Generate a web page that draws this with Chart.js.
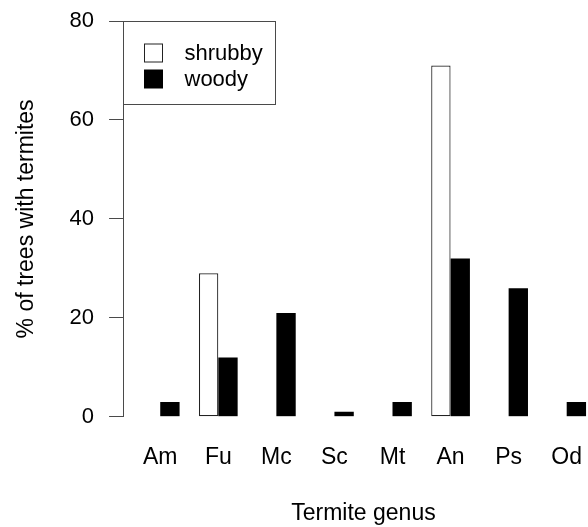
<!DOCTYPE html>
<html>
<head>
<meta charset="utf-8">
<script src="https://cdn.jsdelivr.net/npm/chart.js@4"></script>
<style>
  html, body { margin: 0; padding: 0; background: #fff; overflow: hidden; }
  #wrap { width: 610px; height: 527px; }
</style>
</head>
<body>
<div id="wrap"><canvas id="chart" width="610" height="527"></canvas></div>
<script>
/* Termite genera on shrubby vs woody trees, R-style grouped barplot. */

const genera = ['Am', 'Fu', 'Mc', 'Sc', 'Mt', 'An', 'Ps', 'Od'];
const shrubby = [0, 29, 0, 0, 0, 71, 0, 0];
const woody = [3, 12, 21, 1, 3, 32, 26, 3];
const yTicks = [0, 20, 40, 60, 80];

const FONT = '"Liberation Sans", Arial, Helvetica, sans-serif';
const INK = '#000';
const AXIS = '#4a4a4a';

// R barplot(beside = TRUE) slots: each group takes 3 units (1 gap + 2 bars),
// labels sit at the middle of the pair.
const groupMid = genera.map((g, i) => 3 * i + 2);
const span = 3 * genera.length - 1;
const xMin = 1 - 0.04 * span;
const xMax = 3 * genera.length + 0.04 * span;

const toPoints = (vals) => vals.map((v, i) => ({ x: groupMid[i], y: v }));

const boxLegend = {
  id: 'boxLegend',
  afterDraw(chart) {
    const { ctx, chartArea } = chart;
    const sets = chart.data.datasets;
    const padL = 21, sw = 18, gap = 22, padR = 13, padT = 18, rowH = 26, padB = 13;
    ctx.save();
    ctx.font = `22px ${FONT}`;
    const textW = Math.max(...sets.map((d) => ctx.measureText(d.label).width));
    const x0 = Math.round(chartArea.left) + 0.5;
    const y0 = Math.round(chartArea.top) + 0.5;
    const w = Math.round(padL + sw + gap + textW + padR);
    const h = padT + rowH * sets.length + padB;
    ctx.fillStyle = '#fff';
    ctx.fillRect(x0, y0, w, h);
    ctx.strokeStyle = AXIS;
    ctx.lineWidth = 1;
    ctx.strokeRect(x0, y0, w, h);
    sets.forEach((d, i) => {
      const cy = Math.round(y0 + padT + rowH * i + rowH / 2);
      ctx.fillStyle = d.backgroundColor;
      ctx.fillRect(x0 + padL, cy - sw / 2, sw, sw);
      ctx.strokeStyle = d.borderColor;
      ctx.strokeRect(x0 + padL, cy - sw / 2, sw, sw);
      ctx.fillStyle = INK;
      ctx.textBaseline = 'middle';
      ctx.fillText(d.label, x0 + padL + sw + gap, cy + 1);
    });
    ctx.restore();
  },
};

new Chart(document.getElementById('chart'), {
  type: 'bar',
  data: {
    datasets: [
      {
        label: 'shrubby',
        data: toPoints(shrubby),
        backgroundColor: '#fff',
        borderColor: '#222',
        borderWidth: 1.2,
        borderSkipped: false,
      },
      {
        label: 'woody',
        data: toPoints(woody),
        backgroundColor: '#000',
        borderColor: '#000',
        borderWidth: 0,
      },
    ],
  },
  options: {
    responsive: false,
    animation: false,
    categoryPercentage: 2 / 3,
    barPercentage: 1,
    layout: { padding: { top: 21, right: 6, bottom: 0, left: 0 } },
    plugins: {
      legend: { display: false },
      tooltip: { enabled: false },
    },
    scales: {
      x: {
        type: 'linear',
        offset: false,
        min: xMin,
        max: xMax,
        grid: { display: false, drawTicks: false },
        border: { display: false },
        afterBuildTicks: (scale) => { scale.ticks = groupMid.map((v) => ({ value: v })); },
        ticks: {
          autoSkip: false,
          maxRotation: 0,
          padding: 27.5,
          color: INK,
          font: { family: FONT, size: 23 },
          callback: (v) => genera[groupMid.indexOf(v)],
        },
        title: {
          display: true,
          text: 'Termite genus',
          color: INK,
          font: { family: FONT, size: 23 },
          padding: { top: 0, bottom: 0 },
        },
      },
      y: {
        min: 0,
        max: 80,
        afterBuildTicks: (scale) => { scale.ticks = yTicks.map((v) => ({ value: v })); },
        grid: { drawOnChartArea: false, drawTicks: true, tickLength: 14, color: AXIS, lineWidth: 1 },
        border: { display: true, color: AXIS, width: 1 },
        ticks: {
          padding: 15,
          color: INK,
          // small lineHeight only keeps the top label from pushing the plot down
          font: { family: FONT, size: 22, lineHeight: 0.5 },
        },
        title: {
          display: true,
          text: '% of trees with termites',
          color: INK,
          font: { family: FONT, size: 23 },
          padding: { top: 13, bottom: 14 },
        },
      },
    },
  },
  plugins: [boxLegend],
});
</script>
</body>
</html>
